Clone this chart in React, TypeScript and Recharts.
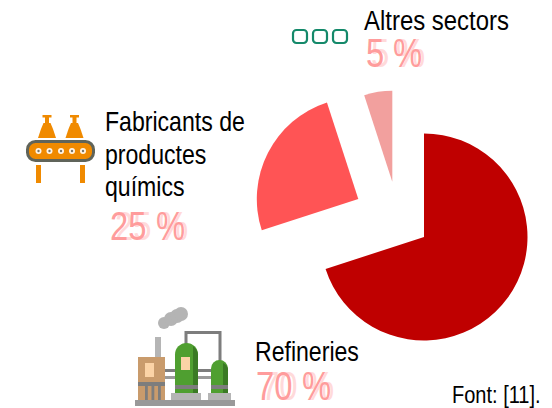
// App.tsx
import React from "react";
import { PieChart, Pie, Cell, Sector } from "recharts";

const categories = ["Refineries", "Fabricants de productes químics", "Altres sectors"];
const shares = [70, 25, 5];
const sliceColors = ["#BF0000", "#FF5455", "#F2A09E"];

const chartData = categories.map((name, i) => ({ name, value: shares[i] }));

// each slice is pulled out of the pie and has its own radius
const CX = 424;
const CY = 237;
const sliceShift = [
  { dx: 0, dy: 0, r: 103.5 },
  { dx: -65.7, dy: -38, r: 101.5 },
  { dx: -31.7, dy: -55.3, r: 91 },
];

// narrow font is not installed, so the sans is squeezed horizontally
const FONT = "'Liberation Sans', sans-serif";
const PINK = "#FF9C9C";
const PINK_GHOST = "#FFDADA";

const renderSlice = (props: any) => {
  const s = sliceShift[props.index] || sliceShift[0];
  return (
    <Sector
      {...props}
      cx={props.cx + s.dx}
      cy={props.cy + s.dy}
      innerRadius={0}
      outerRadius={s.r}
      stroke="none"
    />
  );
};

const Narrow = ({ x, y, size, sx = 0.82, fill = "#000", children }: any) => (
  <text
    transform={`translate(${x} ${y}) scale(${sx} 1)`}
    fontFamily={FONT}
    fontSize={size}
    fill={fill}
  >
    {children}
  </text>
);

const Percent = ({ x, y, num, gap }: { x: number; y: number; num: string; gap: number }) => (
  <g>
    <Narrow x={x + 5} y={y} size={40} fill={PINK_GHOST}>{num}</Narrow>
    <Narrow x={x + gap + 3} y={y} size={40} fill={PINK_GHOST}>%</Narrow>
    <Narrow x={x} y={y} size={40} fill={PINK}>{num}</Narrow>
    <Narrow x={x + gap} y={y} size={40} fill={PINK}>%</Narrow>
  </g>
);

const ConveyorIcon = () => (
  <g>
    {[47, 74.5].map((c) => (
      <g key={c} fill="#F08A00">
        <rect x={c - 4.5} y={115} width={9} height={2.5} />
        <rect x={c - 2} y={117} width={4} height={6} />
        <path d={`M${c - 3.5} 123 L${c + 3.5} 123 L${c + 6} 129 L${c + 9} 138 L${c - 9} 138 L${c - 6} 129 Z`} />
      </g>
    ))}
    <rect x={27.5} y={141.5} width={66} height={19} rx={8} fill="#F08A00" stroke="#60645A" strokeWidth={3} />
    {[38.5, 49.5, 61, 72, 83].map((c) => (
      <g key={c}>
        <circle cx={c} cy={151} r={3} fill="#FFF4E6" />
        <circle cx={c} cy={151} r={1.2} fill="#77766C" />
      </g>
    ))}
    <rect x={36} y={165} width={5} height={18} fill="#F08A00" />
    <rect x={80} y={165} width={5} height={18} fill="#F08A00" />
  </g>
);

const ChainIcon = () => (
  <g fill="none" stroke="#14896A" strokeWidth={2.2}>
    {[293, 313, 333].map((x) => (
      <rect key={x} x={x} y={30} width={14} height={13} rx={3.5} />
    ))}
  </g>
);

const Tank = ({ x, w, top }: { x: number; w: number; top: number }) => (
  <g>
    <path d={`M${x} 393 V${top + w / 2} A${w / 2} ${w / 2} 0 0 1 ${x + w} ${top + w / 2} V393 Z`} fill="#4F9F30" />
    <path d={`M${x + w - 5} 393 V${top + 3} A${w / 2} ${w / 2} 0 0 1 ${x + w} ${top + w / 2} V393 Z`} fill="#3A7A24" />
    <rect x={x} y={385} width={w} height={4} fill="#7D7D7D" />
  </g>
);

const FactoryIcon = () => (
  <g>
    <g fill="#B4B4B4">
      <circle cx={164} cy={323} r={6} />
      <circle cx={171} cy={319} r={7} />
      <circle cx={177} cy={316} r={7} />
      <circle cx={181} cy={314} r={7} />
    </g>
    <path d="M186 345 V332.5 H220 V362" fill="none" stroke="#7D7D7D" strokeWidth={3} />
    <rect x={155} y={337} width={6} height={20} fill="#B5B5B5" />
    <rect x={165} y={369} width={46} height={3} fill="#7D7D7D" />
    <rect x={165} y={376} width={46} height={3} fill="#9A9A9A" />
    <rect x={138} y={357} width={27} height={43} fill="#C99B6C" />
    <rect x={145} y={363} width={9} height={14} fill="#FBD3A6" />
    <rect x={138} y={382} width={27} height={4} fill="#7D7D7D" />
    {[145, 151.5, 158].map((x) => (
      <rect key={x} x={x} y={386} width={2.8} height={14} fill="#7D7D7D" />
    ))}
    <Tank x={175} w={23} top={343} />
    <rect x={181} y={357} width={9} height={13} fill="#FBD3A6" />
    <Tank x={211} w={17} top={360} />
    <rect x={171} y={393} width={30} height={7} fill="#B5B5B5" />
    <rect x={208} y={393} width={23} height={7} fill="#B5B5B5" />
    <rect x={135} y={400} width={100} height={6} fill="#999999" />
  </g>
);

const App = () => (
  <div style={{ position: "absolute", left: 0, top: 0, width: 552, height: 408, background: "#fff" }}>
    <PieChart width={552} height={408} margin={{ top: 0, right: 0, bottom: 0, left: 0 }}>
      <Pie
        data={chartData}
        dataKey="value"
        nameKey="name"
        cx={CX}
        cy={CY}
        outerRadius={103}
        startAngle={90}
        endAngle={-270}
        stroke="none"
        label={false}
        labelLine={false}
        shape={renderSlice}
        isAnimationActive={false}
      >
        {chartData.map((_, i) => (
          <Cell key={`cell-${i}`} fill={sliceColors[i]} />
        ))}
      </Pie>
    </PieChart>
    <svg width={552} height={408} style={{ position: "absolute", left: 0, top: 0 }}>
      <ChainIcon />
      <ConveyorIcon />
      <FactoryIcon />
      <Narrow x={364} y={30} size={28.5} sx={0.84}>{categories[2]}</Narrow>
      <Narrow x={105} y={131} size={28.5} sx={0.81}>Fabricants de</Narrow>
      <Narrow x={105} y={164} size={28.5} sx={0.81}>productes</Narrow>
      <Narrow x={105} y={196} size={28.5} sx={0.81}>químics</Narrow>
      <Narrow x={255} y={361} size={28.5} sx={0.81}>{categories[0]}</Narrow>
      <Percent x={366} y={67} num={`${shares[2]}`} gap={27} />
      <Percent x={110} y={240} num={`${shares[1]}`} gap={46} />
      <Percent x={256} y={400} num={`${shares[0]}`} gap={46} />
      <Narrow x={452} y={403} size={23} sx={0.87}>Font: [11].</Narrow>
    </svg>
  </div>
);

export default App;
